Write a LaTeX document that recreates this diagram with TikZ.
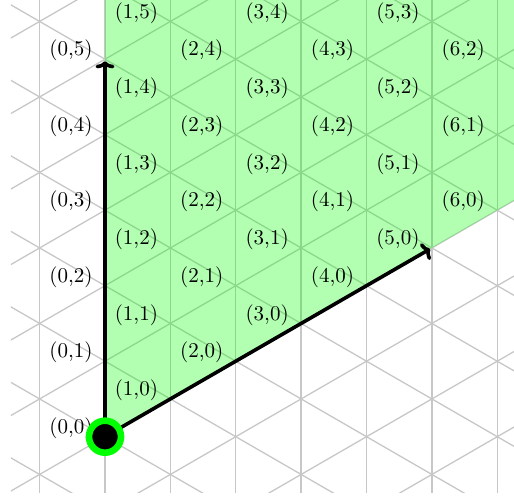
\documentclass[tikz,border=0pt]{standalone}
\usetikzlibrary{arrows.meta}
\tikzset{
  gridline/.style={draw=black!22, line width=0.65pt},
  cone/.style={fill=green, fill opacity=0.3},
  vecarrow/.style={line width=1.8pt, shorten >=1pt, -{To[length=3.6pt,width=9.5pt]}},
  lbl/.style={anchor=base east, inner sep=0pt, xshift=-6pt, yshift=1.6pt, font=\fontsize{10.5}{12}\selectfont},
  origindot/.style={circle, fill=black, draw=green, line width=3.3pt, minimum size=16pt, inner sep=0pt}
}
\begin{document}
\begin{tikzpicture}[x={(32.69pt,18.875pt)}, y={(0pt,37.75pt)}]
\useasboundingbox (-52.5pt,-30.15pt) rectangle (204.5pt,218.35pt);
\begin{scope}
  \clip (-47pt,-28.15pt) rectangle (204.5pt,218.35pt);
  \foreach \k in {-8,...,14} {
    \draw[gridline] (\k,-20) -- (\k,20);
    \draw[gridline] (-20,\k) -- (20,\k);
    \draw[gridline] (\k+15,-15) -- (\k-15,15);
  }
  \fill[cone] (0,0) -- (0,20) -- (20,0) -- cycle;
\end{scope}
\coordinate (O) at (0,0);
\coordinate (A) at (5,0);
\coordinate (B) at (0,5);
\foreach \i/\jmax in {0/5,1/5,2/4,3/4,4/3,5/3,6/2} {
  \foreach \j in {0,...,\jmax} {
    \node[lbl] (p\i\j) at (\i,\j) {(\i,\j)};
  }
}
\draw[vecarrow] (O) -- (B);
\draw[vecarrow] (O) -- (A);
\node[origindot] (dot) at (O) {};
\end{tikzpicture}
\end{document}
